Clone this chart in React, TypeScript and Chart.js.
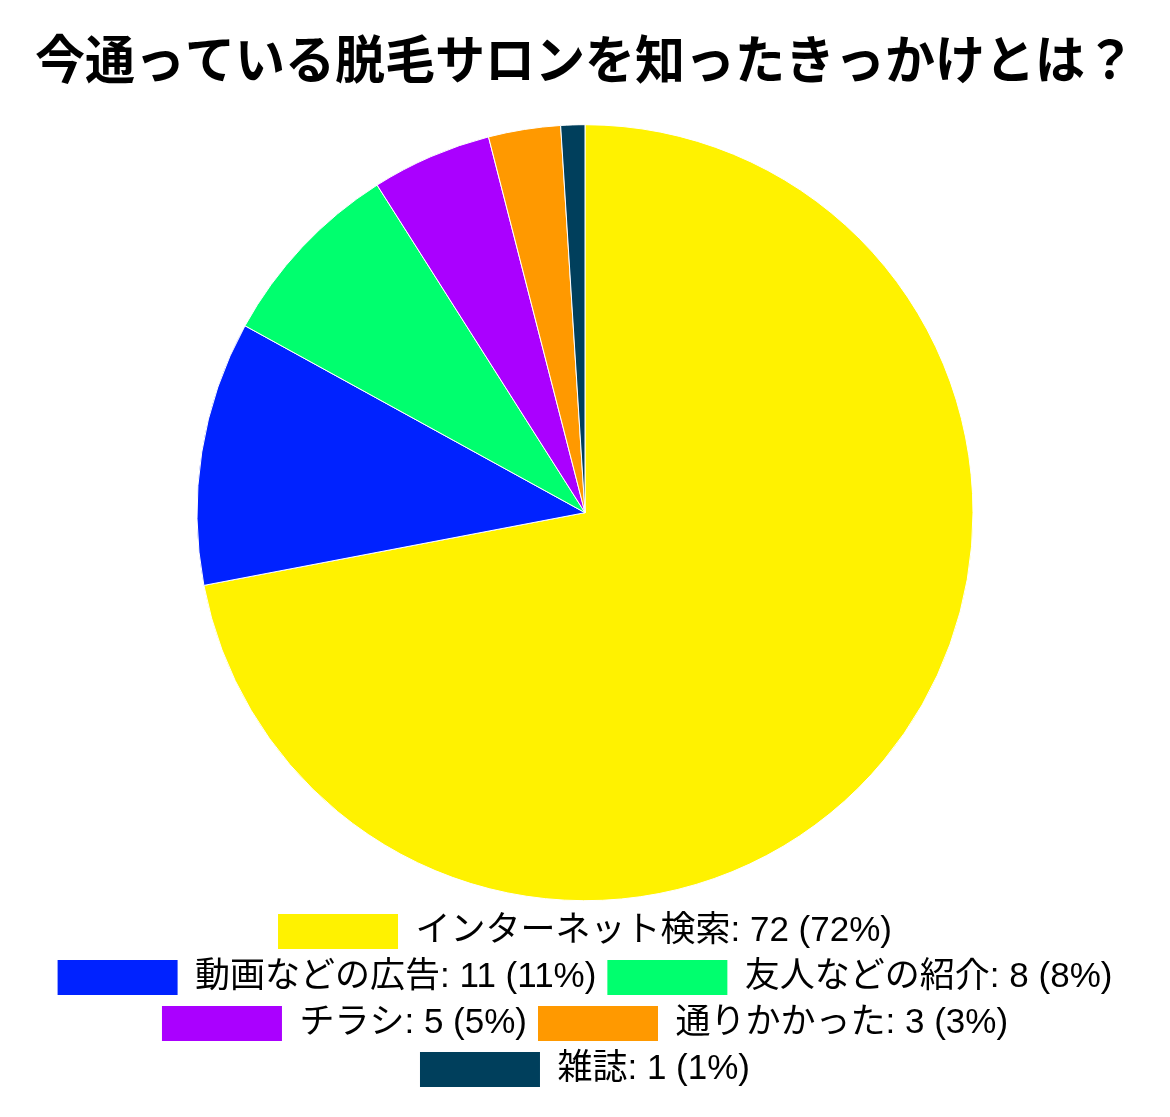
import { useEffect, useRef } from 'react';
import Chart from 'chart.js/auto';

const categories = ['インターネット検索', '動画などの広告', '友人などの紹介', 'チラシ', '通りかかった', '雑誌'];
const counts = [72, 11, 8, 5, 3, 1];
const colors = ['#FFF200', '#0022FF', '#00FF6E', '#AA00FF', '#FF9900', '#003F5C'];

const FONT = '"Liberation Sans", "Noto Sans CJK JP", sans-serif';
const TITLE_FONT = '"Noto Sans CJK JP", sans-serif';

export default function App() {
  const chartRef = useRef<HTMLCanvasElement>(null);
  const chartInstance = useRef<Chart | null>(null);

  useEffect(() => {
    if (!chartRef.current) return;
    const ctx = chartRef.current.getContext('2d');
    if (!ctx) return;

    if (chartInstance.current) {
      chartInstance.current.destroy();
    }

    const total = counts.reduce((a, b) => a + b, 0);

    chartInstance.current = new Chart(ctx, {
      type: 'pie',
      data: {
        labels: categories,
        datasets: [{
          data: counts,
          backgroundColor: colors,
          borderColor: '#ffffff',
          borderWidth: 1,
          radius: 388
        }]
      },
      options: {
        responsive: true,
        maintainAspectRatio: false,
        animation: false,
        layout: {
          padding: { left: 35, right: 35, top: 0, bottom: 20 }
        },
        plugins: {
          title: {
            display: true,
            text: '今通っている脱毛サロンを知ったきっかけとは？',
            color: '#000000',
            font: { family: TITLE_FONT, size: 52, weight: 'bold' },
            padding: { top: 28, bottom: 32 }
          },
          legend: {
            position: 'bottom',
            labels: {
              boxWidth: 120,
              boxHeight: 35,
              padding: 11,
              color: '#000000',
              font: { family: FONT, size: 35 },
              generateLabels: (chart) => {
                const base = Chart.overrides.pie.plugins.legend.labels.generateLabels(chart);
                return base.map((item, i) => ({
                  ...item,
                  text: `${categories[i]}: ${counts[i]} (${Math.round((counts[i] / total) * 100)}%)`,
                  lineWidth: 0
                }));
              }
            }
          },
          tooltip: { enabled: false }
        }
      }
    });

    return () => {
      if (chartInstance.current) {
        chartInstance.current.destroy();
        chartInstance.current = null;
      }
    };
  }, []);

  return (
    <div style={{ position: 'absolute', left: 0, top: 0, width: 1170, height: 1117, background: '#ffffff' }}>
      <canvas ref={chartRef}></canvas>
    </div>
  );
}
